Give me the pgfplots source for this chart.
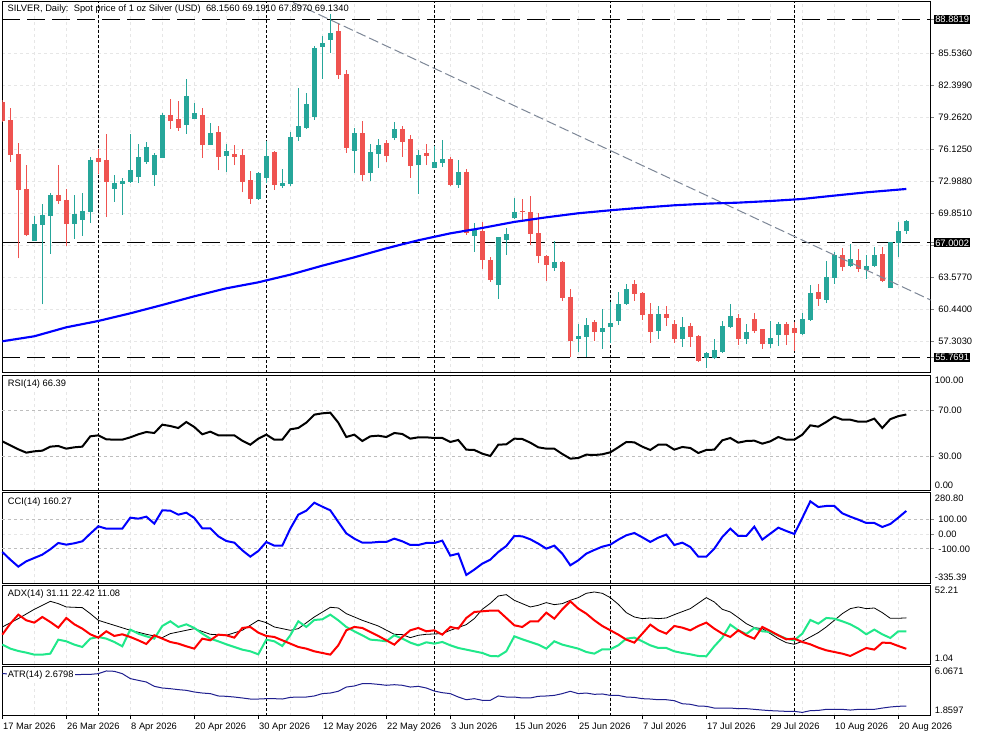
\documentclass[border=0pt]{standalone}
\usepackage{fontspec}
\setmainfont{Liberation Sans}
\usepackage{pgfplots}
\usepackage{pgfplotstable}
\pgfplotsset{compat=1.18}
\definecolor{upc}{HTML}{26A69A}
\definecolor{dnc}{HTML}{EF5350}
\definecolor{gridc}{HTML}{E6E6E6}
\definecolor{levc}{HTML}{BEBEBE}
\definecolor{trendc}{HTML}{7D8797}
\definecolor{pdi}{HTML}{20E88A}
\definecolor{atrc}{HTML}{1F1F8F}
\newcommand\lbl{\fontsize{7}{8.4}\selectfont}

\pgfplotstableread{
i O H L C
4 67.22 69.63 67.22 68.85
5 68.75 70.81 60.97 69.73
6 69.63 71.86 65.91 71.69
9 68.85 71.69 67.38 69.80
10 69.24 71.86 67.71 70.12
11 70.06 75.39 68.98 75.12
14 72.28 73.65 71.04 72.84
15 72.80 73.32 69.73 73.06
16 73.00 77.67 72.90 74.14
17 73.49 76.69 72.90 75.45
18 74.93 76.89 74.73 76.40
19 73.65 75.78 72.61 75.61
20 75.35 79.76 75.35 79.54
23 78.56 83.06 77.67 81.40
24 79.17 80.71 79.11 79.73
26 76.59 78.75 76.59 77.74
28 75.52 76.69 73.95 76.01
32 71.30 73.95 71.20 73.85
33 73.39 77.02 72.84 75.52
35 72.61 74.24 72.41 72.87
36 72.77 77.87 72.61 77.38
37 77.38 82.18 76.99 78.46
38 78.26 81.66 78.20 80.61
39 79.31 86.30 79.05 86.10
40 86.20 87.31 83.10 86.59
41 86.89 89.40 85.61 87.57
44 76.01 78.26 73.85 77.74
46 73.85 76.69 73.06 75.88
47 75.71 77.18 74.34 76.59
49 77.31 78.85 77.08 78.16
52 74.63 76.10 71.79 75.61
54 74.37 76.50 74.31 74.93
55 74.83 77.08 74.47 75.22
57 72.67 75.12 72.38 73.95
59 67.67 68.98 66.14 68.26
62 62.87 67.54 61.50 67.54
63 67.28 68.49 65.81 67.87
64 69.41 71.40 69.34 70.03
69 64.57 67.18 64.24 65.12
72 57.61 59.05 56.33 57.84
73 57.80 59.63 55.84 58.95
75 58.29 60.52 56.63 58.62
76 58.78 61.20 57.21 59.14
77 59.37 62.18 58.95 61.01
78 61.01 62.93 60.91 62.48
82 58.36 60.78 57.61 60.03
85 57.61 59.73 56.82 58.75
88 55.68 56.33 54.76 56.24
89 55.68 57.54 55.58 56.46
90 56.33 59.34 56.24 58.85
91 58.75 61.01 58.65 59.83
93 57.61 59.05 57.08 58.26
96 57.12 59.34 56.72 57.64
97 57.97 59.24 56.92 59.05
100 58.06 60.12 57.97 59.54
101 59.44 62.87 59.34 62.08
103 61.40 65.22 61.10 63.65
104 63.59 66.10 62.97 65.81
106 64.73 66.89 64.63 65.42
108 64.37 65.81 63.46 64.73
109 64.73 66.59 64.63 65.81
111 62.61 67.05 62.61 67.05
112 66.99 69.05 65.61 68.16
113 68.156 69.191 67.897 69.134
}\up

\pgfplotstableread{
i O H L C
0 80.84 81.01 78.88 78.98
1 79.05 80.19 74.96 75.61
2 75.71 76.76 65.48 72.18
3 72.28 74.63 67.67 67.77
7 71.66 74.63 70.81 71.10
8 71.20 72.25 66.73 68.85
12 75.29 76.20 73.75 74.93
13 75.12 77.67 69.57 73.00
21 79.54 81.14 78.20 78.98
22 79.14 80.94 78.00 78.29
25 79.54 80.25 75.35 76.59
27 77.87 78.46 74.14 75.45
29 75.71 76.59 74.63 75.45
30 75.61 76.20 71.95 73.00
31 73.16 74.05 70.81 71.30
34 75.94 76.01 72.18 72.67
42 87.77 88.56 83.06 83.46
43 83.56 83.95 75.84 76.30
45 77.74 78.98 73.06 73.65
48 76.76 77.08 74.93 75.52
50 78.16 78.46 75.42 76.89
51 77.18 77.61 73.36 74.54
53 75.81 76.69 74.63 75.52
56 75.22 75.42 72.57 72.67
58 73.95 74.24 67.77 68.00
60 68.16 69.07 64.41 65.35
61 65.35 65.65 63.19 63.36
65 70.12 71.27 69.08 70.03
66 70.03 71.59 66.79 67.87
67 67.97 69.90 64.99 65.71
68 65.71 65.81 63.26 64.83
70 65.12 65.22 61.30 61.63
71 61.69 62.48 55.77 57.41
74 59.24 59.44 57.41 58.29
79 62.97 63.36 61.30 61.99
80 62.08 62.18 59.44 59.93
81 60.03 61.10 57.21 58.29
83 60.03 60.81 58.85 59.67
84 59.05 59.44 57.21 57.61
86 58.85 59.14 56.82 57.80
87 57.84 57.93 55.35 55.45
92 59.63 60.03 57.02 57.61
94 59.54 60.12 58.16 58.36
95 58.55 58.55 56.63 57.12
98 59.05 59.24 57.02 57.93
99 58.65 59.24 56.43 58.16
102 62.18 62.97 60.81 61.53
105 65.81 66.50 64.24 64.63
107 65.32 66.40 64.14 64.47
110 65.91 66.59 63.16 63.26
}\dn

\pgfplotstableread{
i ma
0 57.35
4 57.84
8 58.72
12 59.34
16 60.09
20 60.91
24 61.76
28 62.54
32 63.13
36 63.88
40 64.76
44 65.58
48 66.46
52 67.25
56 67.93
60 68.46
64 69.05
68 69.50
72 69.90
76 70.19
80 70.45
84 70.68
88 70.84
92 70.94
96 71.10
100 71.30
104 71.63
108 71.95
113 72.28
}\ma

\pgfplotstableread{
i rsi cci atr
0 43.04 -121.0 5.44
1 39.57 -173.5 5.42
2 36.09 -221.5 5.45
3 33.19 -184.9 5.47
4 34.35 -162.1 5.44
5 34.93 -139.3 5.40
6 38.41 -102.7 5.38
7 38.99 -59.4 5.37
8 36.67 -70.8 5.36
9 37.83 -61.6 5.36
10 38.41 -47.9 5.37
11 47.39 4.6 5.38
12 48.26 54.8 5.44
13 44.78 38.8 5.67
14 44.49 38.8 5.64
15 44.49 38.8 5.44
16 46.52 114.2 5.02
17 49.13 107.3 4.87
18 51.16 121.0 4.73
19 50.29 73.1 4.36
20 57.54 164.4 4.22
21 56.38 162.1 4.16
22 54.64 134.7 4.08
23 59.86 148.4 4.02
24 55.51 111.9 3.88
25 49.13 41.1 3.79
26 51.45 41.1 3.74
27 48.26 -13.7 3.54
28 48.26 -45.7 3.51
29 48.26 -57.1 3.45
30 43.62 -109.6 3.37
31 40.14 -153.0 3.28
32 45.36 -114.2 3.28
33 48.84 -52.5 3.31
34 44.49 -77.6 3.31
35 44.49 -77.6 3.28
36 53.48 38.8 3.42
37 54.64 134.7 3.45
38 59.28 162.1 3.45
39 66.23 216.9 3.54
40 67.39 189.5 3.74
41 67.97 164.4 3.79
42 59.28 84.5 3.94
43 46.81 6.8 4.30
44 48.84 -29.7 4.39
45 43.33 -57.1 4.59
46 47.39 -57.1 4.59
47 47.97 -52.5 4.53
48 46.81 -52.5 4.45
49 50.29 -29.7 4.50
50 49.42 -47.9 4.45
51 45.36 -73.1 4.30
52 46.52 -73.1 4.36
53 46.52 -59.4 4.22
54 45.94 -59.4 3.96
55 45.94 -43.4 3.82
56 42.46 -146.1 3.74
57 44.20 -132.4 3.45
58 35.80 -278.5 3.22
59 35.51 -242.0 3.31
60 32.32 -200.9 3.17
61 30.29 -173.5 3.17
62 40.14 -121.0 3.54
63 40.43 -79.9 3.45
64 45.36 -11.4 3.45
65 45.07 -13.7 3.37
66 41.88 -34.2 3.37
67 37.83 -63.9 3.51
68 36.67 -98.2 3.54
69 36.67 -77.6 3.59
70 32.03 -132.4 3.74
71 27.97 -212.3 3.94
72 28.55 -178.1 3.74
73 31.45 -132.4 3.79
74 31.16 -107.3 3.68
75 31.74 -84.5 3.71
76 33.48 -70.8 3.59
77 37.83 -36.5 3.59
78 42.46 -6.8 3.45
79 42.17 9.1 3.42
80 38.41 -20.5 3.31
81 35.51 -52.5 3.28
82 40.14 -22.8 3.22
83 40.14 -2.3 3.22
84 35.80 -73.1 3.14
85 38.12 -57.1 2.88
86 37.25 -86.8 2.83
87 32.90 -153.0 2.68
88 35.51 -153.0 2.66
89 35.80 -98.2 2.51
90 43.91 -18.3 2.51
91 45.94 38.8 2.51
92 41.88 -11.4 2.46
93 43.33 -11.4 2.46
94 43.62 52.5 2.40
95 41.01 -36.5 2.34
96 43.04 4.6 2.29
97 46.81 45.7 2.26
98 44.49 22.8 2.23
99 44.49 2.3 2.23
100 48.84 111.9 2.14
101 56.96 226.0 2.29
102 55.80 187.2 2.31
103 59.86 194.1 2.40
104 64.49 194.1 2.40
105 61.88 143.8 2.40
106 61.88 121.0 2.34
107 60.14 100.5 2.40
108 60.14 77.6 2.40
109 62.75 77.6 2.40
110 54.64 50.2 2.51
111 62.32 70.8 2.60
112 64.93 114.2 2.66
113 66.39 160.27 2.68
}\ind

\pgfplotstableread{
i pdi mdi
0 13.77 20.25
1 11.18 27.37
2 9.67 33.20
3 8.59 29.53
4 7.29 28.02
5 7.29 31.69
6 7.94 28.45
7 17.01 24.78
8 15.93 31.04
9 13.77 26.95
10 12.26 24.14
11 17.66 20.47
12 18.74 18.31
13 17.66 22.41
14 15.50 19.39
15 12.69 20.47
16 23.49 18.74
17 20.90 16.58
18 19.17 14.20
19 17.66 19.82
20 25.86 17.66
21 28.89 15.50
22 25.22 14.42
23 26.95 12.69
24 24.57 11.18
25 20.90 17.66
26 17.66 16.58
27 15.93 20.25
28 13.99 19.82
29 12.26 18.31
30 10.53 24.57
31 9.45 25.22
32 7.51 21.55
33 17.01 19.39
34 15.93 18.74
35 12.91 16.58
36 19.82 14.42
37 28.89 12.26
38 25.22 11.18
39 29.75 9.45
40 30.18 8.38
41 33.20 7.29
42 29.53 13.34
43 25.22 23.06
44 22.41 25.22
45 19.82 24.57
46 17.01 21.98
47 16.58 19.39
48 15.93 16.58
49 19.82 13.77
50 17.66 18.74
51 15.07 23.06
52 13.34 24.57
53 15.29 22.41
54 14.42 23.06
55 15.50 20.25
56 13.34 25.22
57 11.61 24.14
58 10.53 31.04
59 9.45 34.93
60 8.38 35.36
61 6.43 35.80
62 6.22 35.80
63 9.45 31.04
64 19.17 26.30
65 17.23 25.22
66 15.50 28.89
67 13.77 28.89
68 11.18 34.50
69 15.93 30.61
70 13.77 36.66
71 12.47 41.84
72 11.18 37.09
73 9.02 33.85
74 7.94 29.53
75 10.75 25.86
76 10.75 23.06
77 13.34 20.25
78 17.66 17.01
79 18.31 15.07
80 15.93 20.90
81 13.34 26.73
82 11.61 23.06
83 11.61 20.90
84 9.45 25.86
85 8.38 24.78
86 7.51 23.06
87 6.43 25.86
88 6.22 28.02
89 12.69 24.14
90 18.31 20.90
91 26.73 18.74
92 23.06 23.06
93 20.68 19.82
94 24.57 17.66
95 22.41 25.22
96 21.98 22.63
97 19.82 19.82
98 17.66 17.23
99 16.58 17.66
100 20.90 15.50
101 29.75 13.99
102 27.37 11.83
103 31.04 10.10
104 30.61 9.02
105 28.89 7.94
106 26.95 6.43
107 24.14 9.02
108 20.47 11.61
109 23.49 10.54
110 20.47 15.07
111 18.09 14.86
112 22.42 12.91
113 22.42 11.08
}\di

\pgfplotstableread{
i adx
0 25.22
2 30.61
4 36.66
6 41.84
7 40.33
8 38.17
10 37.74
11 33.85
12 29.53
14 26.30
16 23.06
18 20.47
20 18.31
21 20.90
23 23.06
24 24.14
26 20.47
28 19.82
30 23.06
32 29.53
33 28.02
34 25.22
36 23.06
37 24.14
39 31.69
41 37.96
42 37.52
43 33.85
45 29.53
47 25.86
49 20.47
50 20.25
51 18.31
52 19.82
53 20.47
55 20.90
56 23.06
58 26.73
59 30.61
60 36.66
61 40.55
62 45.30
63 46.16
64 42.49
66 38.17
67 39.25
68 40.98
69 39.68
70 40.33
71 42.49
72 44.22
73 47.03
74 47.89
75 47.03
76 44.22
77 39.90
78 34.50
79 31.69
80 30.61
81 31.04
82 30.61
83 31.04
84 33.20
86 37.09
88 44.22
89 41.41
90 36.66
91 34.93
92 31.26
93 27.37
94 24.78
95 24.14
96 20.90
97 17.66
98 15.07
99 13.99
100 15.93
101 18.74
102 21.55
103 25.22
104 29.53
105 33.85
106 37.09
107 38.17
108 37.09
109 37.52
110 34.50
111 30.83
112 30.83
113 31.11
}\adx

\tikzset{
  rlab/.style={anchor=west, font=\lbl, inner sep=1pt, xshift=2pt},
  plab/.style={anchor=west, font=\lbl, fill=white, inner sep=1pt, xshift=3pt},
}
\pgfplotsset{
  mtbase/.style={
    scale only axis,
    width=696.3pt,
    xmin=0, xmax=116.05,
    axis line style={line width=0.75pt},
    tick label style={font=\lbl},
    /pgf/number format/assume math mode=true,
    xtick={0,8,...,112},
    minor xtick={4,12,...,116},
    xmajorgrids, xminorgrids,
    grid style={draw=gridc, line width=0.75pt, dash pattern=on 2.25pt off 2.25pt},
    xticklabels={},
    xtick style={draw=none},
    ytick pos=right, yticklabel pos=right,
    tick align=outside,
    major tick length=2.25pt,
    minor tick length=0pt,
    ytick style={line width=0.75pt},
    extra x ticks={12,33,54,76,99},
    extra x tick labels={},
    extra x tick style={grid=major, major tick length=0pt,
      major grid style={draw=black, line width=0.75pt, dash pattern=on 2.25pt off 1.5pt}},
  },
  levels/.style={grid=major,
      major grid style={draw=levc, line width=0.75pt, dash pattern=on 2.25pt off 2.25pt}},
  wick/.style={draw=none, mark=none, forget plot,
      error bars/.cd, y dir=plus, y explicit, error mark=none,
      error bar style={draw=#1, line width=0.75pt, solid}},
  body/.style={draw=none, mark=none, forget plot,
      error bars/.cd, y dir=plus, y explicit, error mark=none,
      error bar style={draw=#1, line width=4pt, solid}},
}

\begin{document}
\begin{tikzpicture}
\fill[white] (0,0) rectangle (737.25pt,-552.75pt);

% ---------------- main price panel
\begin{axis}[mtbase, at={(1.725pt,-1.5pt)}, anchor=north west, height=278.25pt,
  ymin=54.24, ymax=90.61,
  ytick={57.303,60.44,63.577,66.714,69.851,72.988,76.125,79.262,82.399,85.536},
  yticklabels={57.3030,60.4400,63.5770,{},69.8510,72.9880,76.1250,79.2620,82.3990,85.5360},
  ymajorgrids,
  extra y ticks={55.7691,67.0002,88.8819},
  extra y tick labels={55.7691,67.0002,88.8819},
  extra y tick style={grid=major,
     major grid style={draw=black, line width=0.75pt, dash pattern=on 13.5pt off 5.25pt},
     yticklabel style={fill=black, text=white, inner sep=1pt}},
]
\addplot[wick=upc] table[x=i, y=L, y error plus expr=\thisrow{H}-\thisrow{L}] {\up};
\addplot[body=upc] table[x=i, y=O, y error plus expr=\thisrow{C}-\thisrow{O}] {\up};
\addplot[wick=dnc] table[x=i, y=L, y error plus expr=\thisrow{H}-\thisrow{L}] {\dn};
\addplot[body=dnc] table[x=i, y=C, y error plus expr=\thisrow{O}-\thisrow{C}] {\dn};
\addplot[trendc, line width=0.75pt, dash pattern=on 7.5pt off 3pt] coordinates {(30,92.89) (116.05,61.39)};
\addplot[blue, line width=1.6pt] table[x=i, y=ma] {\ma};
\node[anchor=west, font=\lbl, inner sep=0pt, xshift=3.75pt, yshift=-5.25pt] at (rel axis cs:0,1)
  {SILVER, Daily:\ \ Spot price of 1 oz Silver (USD)\ \ 68.1560 69.1910 67.8970 69.1340};
\end{axis}

% ---------------- RSI
\begin{axis}[mtbase, at={(1.725pt,-281.625pt)}, anchor=north west, height=86.625pt,
  ymin=-0.15, ymax=100.3, ytick=\empty, clip=false,
  extra y ticks={30,70}, extra y tick labels={30.00,70.00},
  extra y tick style={levels},
]
\addplot[black, line width=1.5pt] table[x=i, y=rsi] {\ind};
\node[plab, yshift=-6.75pt] at (rel axis cs:0,1) {RSI(14) 66.39};
\node[rlab, yshift=-3.6pt] at (rel axis cs:1,1) {100.00};
\node[rlab, yshift=4pt] at (rel axis cs:1,0) {0.00};
\end{axis}

% ---------------- CCI
\begin{axis}[mtbase, at={(1.725pt,-369.75pt)}, anchor=north west, height=67.725pt,
  ymin=-335.6, ymax=283.1, ytick={0}, yticklabels={0.00}, ymajorgrids, clip=false,
  extra y ticks={-100,100}, extra y tick labels={-100.00,100.00},
  extra y tick style={levels},
]
\addplot[blue, line width=1.5pt] table[x=i, y=cci] {\ind};
\node[plab, yshift=-7.1pt] at (rel axis cs:0,1) {CCI(14) 160.27};
\node[rlab, yshift=-4.3pt] at (rel axis cs:1,1) {280.80};
\node[rlab, yshift=4.5pt] at (rel axis cs:1,0) {-335.39};
\end{axis}

% ---------------- ADX
\begin{axis}[mtbase, at={(1.725pt,-438.975pt)}, anchor=north west, height=59.25pt,
  ymin=1.04, ymax=52.21, ytick=\empty, clip=false,
]
\addplot[black, line width=0.6pt] table[x=i, y=adx] {\adx};
\addplot[pdi, line width=1.5pt] table[x=i, y=pdi] {\di};
\addplot[red, line width=1.5pt] table[x=i, y=mdi] {\di};
\node[plab, yshift=-6.9pt] at (rel axis cs:0,1) {ADX(14) 31.11 22.42 11.08};
\node[rlab, yshift=-4pt] at (rel axis cs:1,1) {52.21};
\node[rlab, yshift=4.2pt] at (rel axis cs:1,0) {1.04};
\end{axis}

% ---------------- ATR
\begin{axis}[mtbase, at={(1.725pt,-499.725pt)}, anchor=north west, height=37.05pt,
  ymin=1.8597, ymax=6.0671, ytick=\empty, clip=false,
  xtick pos=bottom,
  xtick style={draw=black, line width=0.75pt},
  xticklabels={17 Mar 2026,26 Mar 2026,8 Apr 2026,20 Apr 2026,30 Apr 2026,12 May 2026,22 May 2026,3 Jun 2026,15 Jun 2026,25 Jun 2026,7 Jul 2026,17 Jul 2026,29 Jul 2026,10 Aug 2026,20 Aug 2026},
  xticklabel style={anchor=north west, inner sep=1pt, xshift=-0.5pt, yshift=-2pt},
]
\addplot[atrc, line width=0.75pt] table[x=i, y=atr] {\ind};
\node[plab, yshift=-6.75pt] at (rel axis cs:0,1) {ATR(14) 2.6798};
\node[rlab, yshift=-3.75pt] at (rel axis cs:1,1) {6.0671};
\node[rlab, yshift=4pt] at (rel axis cs:1,0) {1.8597};
\end{axis}

\pgfresetboundingbox
\useasboundingbox (0,0) rectangle (737.25pt,-552.75pt);
\end{tikzpicture}
\end{document}
